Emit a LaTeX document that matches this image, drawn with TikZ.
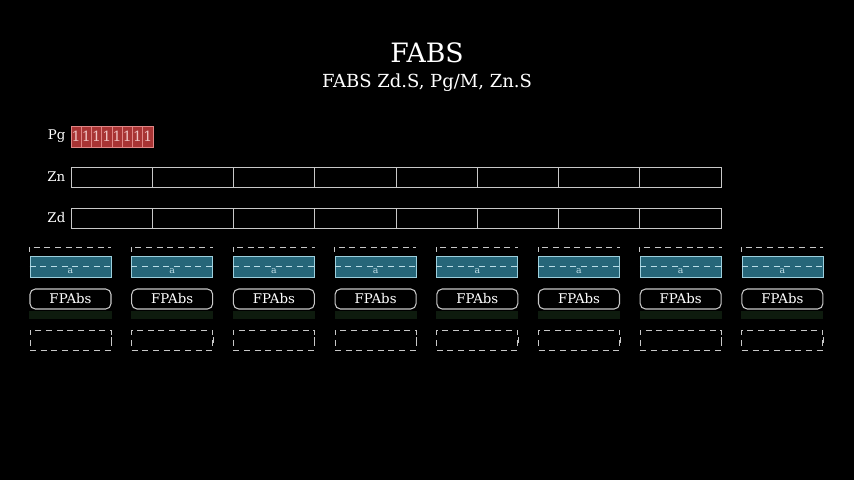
\documentclass[tikz,border=0pt]{standalone}
\usepackage{fontspec}
\setmainfont{DejaVu Serif}
\usetikzlibrary{positioning,calc}

\definecolor{bgblack}{HTML}{000000}
\definecolor{pgred}{HTML}{A83434}
\definecolor{pgedge}{HTML}{E08585}
\definecolor{tealfill}{HTML}{266679}
\definecolor{tealedge}{HTML}{9CCFDD}
\definecolor{boxedge}{HTML}{C8C8C8}
\definecolor{shadowgreen}{HTML}{0E1B0E}

\tikzset{
    cell/.style={draw=boxedge, line width=0.7pt, minimum width=60.94pt, minimum height=15pt, inner sep=0pt},
    bit/.style={draw=pgedge, fill=pgred, line width=0.5pt, minimum width=7.7pt, minimum height=15.5pt, inner sep=0pt, text=pgedge!50!white, font=\fontsize{10.5}{10.5}\selectfont},
    lbl/.style={text=white, font=\fontsize{10}{10}\selectfont, anchor=east},
    tealbox/.style={fill=tealfill, draw=tealedge, line width=0.5pt, minimum width=60.75pt, minimum height=15.75pt, inner sep=0pt},
    fpbox/.style={draw=boxedge, fill=black, rounded corners=4pt, line width=0.8pt, minimum width=60.75pt, minimum height=15pt, inner sep=0pt, text=white, font=\fontsize{10}{10}\selectfont},
    slot/.style={draw=boxedge, dash pattern=on 4.5pt off 3.5pt, line width=0.7pt, minimum width=60.75pt, minimum height=15pt, inner sep=0pt},
    midline/.style={draw=tealedge!70!white, dash pattern=on 4.5pt off 3.5pt, line width=0.7pt},
    topline/.style={draw=boxedge, dash pattern=on 4.5pt off 3.5pt, dash phase=-3pt, line width=0.7pt}
}

\begin{document}
\begin{tikzpicture}[x=0.75pt, y=-0.75pt]
    \fill[bgblack] (0,0) rectangle (854,480);
    \useasboundingbox (0,0) rectangle (854,480);

    % title
    \node[text=white, font=\fontsize{20}{20}\selectfont] (title) at (427,53) {FABS};
    \node[text=white, font=\fontsize{13.5}{13.5}\selectfont, below=1pt of title] (subtitle) {FABS Zd.S, Pg/M, Zn.S};

    % registers
    \node[lbl] (pglbl) at (70,136) {Pg};
    \node[lbl] (znlbl) at (70,177) {Zn};
    \node[lbl] (zdlbl) at (70,218) {Zd};
    \foreach \i in {0,...,7} {
        \node[bit] (pg\i) at ({76.1+\i*10.25},136.5) {1};
        \node[cell] (zn\i) at ({111.6+\i*81.25},177) {};
        \node[cell] (zd\i) at ({111.6+\i*81.25},218) {};
    }

    % columns
    \foreach \i in {0,...,7} {
        \pgfmathsetmacro{\cx}{70.5+\i*101.7}
        \node[tealbox] (t\i) at (\cx,266.5) {};
        \node[text=tealedge!60!white, font=\fontsize{7}{7}\selectfont] (a\i) at ($(t\i.center)+(0,5)$) {a};
        \draw[midline] (t\i.west) -- (t\i.east);
        \coordinate (top\i) at ($(t\i.north west)+(0,-8.5)$);
        \coordinate (topr\i) at ($(t\i.north east)+(0,-8.5)$);
        \draw[topline] (top\i) -- (topr\i);
        \draw[boxedge, line width=0.7pt] (top\i) -- ++(0,5);
        \node[fpbox] (fp\i) at (\cx,299) {FPAbs};
        \fill[shadowgreen] ($(fp\i.south west)+(0,1)$) rectangle ($(fp\i.south east)+(0,9)$);
        \node[slot] (s\i) at (\cx,340) {};
        \draw[boxedge, line width=0.7pt] ($(s\i.east)+(0,-3)$) -- ($(s\i.east)+(0,3)$);
    }
\end{tikzpicture}
\end{document}
